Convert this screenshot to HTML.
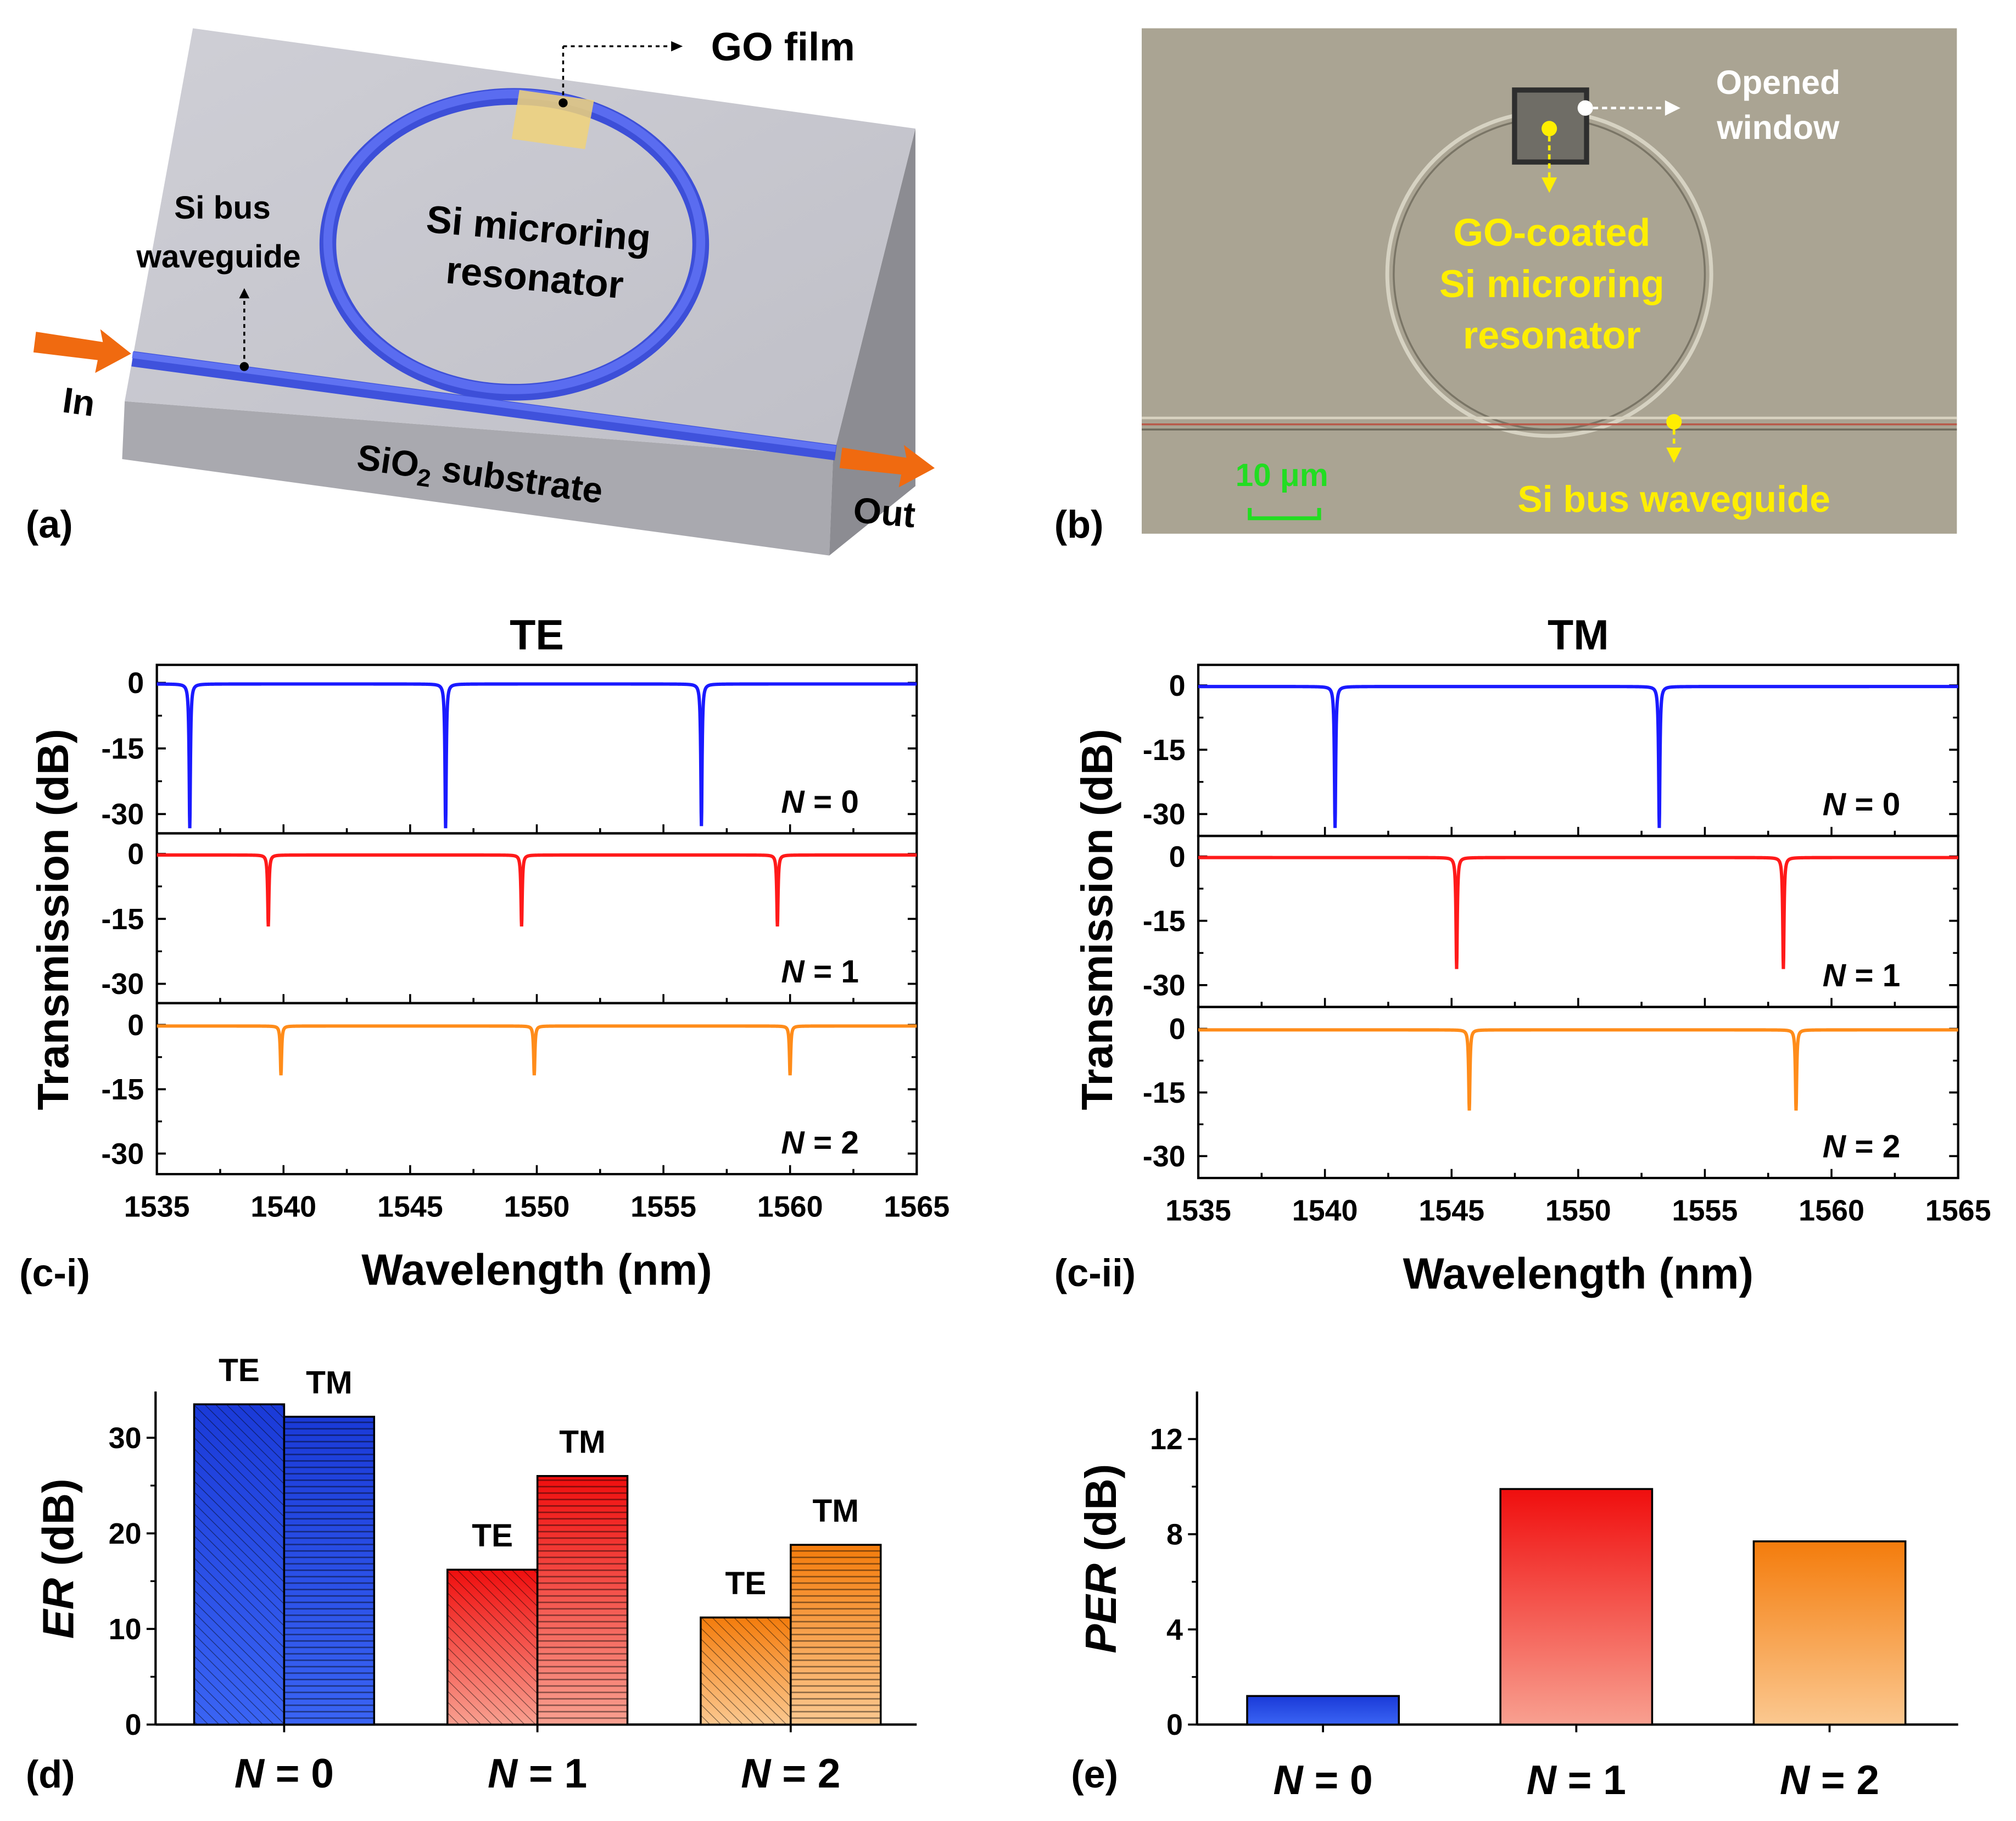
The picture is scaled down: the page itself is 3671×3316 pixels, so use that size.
<!DOCTYPE html>
<html><head><meta charset="utf-8">
<style>
html,body{margin:0;padding:0;background:#fff}
svg{display:block}
text{font-family:"Liberation Sans",Arial,sans-serif}
</style></head>
<body>
<svg id="fig" width="3671" height="3316" viewBox="0 0 1568 1416" preserveAspectRatio="none" xmlns="http://www.w3.org/2000/svg">
<defs>
<pattern id="hatchD" patternUnits="userSpaceOnUse" width="6" height="6" patternTransform="rotate(-45)"><line x1="0" y1="0" x2="0" y2="6" stroke="rgba(0,0,0,0.45)" stroke-width="1.2"/></pattern>
<pattern id="hatchH" patternUnits="userSpaceOnUse" width="6" height="5"><line x1="0" y1="1" x2="6" y2="1" stroke="rgba(0,0,0,0.45)" stroke-width="1.1"/></pattern>
<linearGradient id="gBlue" x1="0" y1="0" x2="0" y2="1"><stop offset="0" stop-color="#1a3ad8"/><stop offset="1" stop-color="#3a64f4"/></linearGradient>
<linearGradient id="gRed" x1="0" y1="0" x2="0" y2="1"><stop offset="0" stop-color="#f00e0e"/><stop offset="1" stop-color="#f8a090"/></linearGradient>
<linearGradient id="gOrange" x1="0" y1="0" x2="0" y2="1"><stop offset="0" stop-color="#f47c0c"/><stop offset="1" stop-color="#fbc890"/></linearGradient>
<linearGradient id="gTop" x1="0" y1="0" x2="1" y2="1"><stop offset="0" stop-color="#cfcfd6"/><stop offset="1" stop-color="#bfbfc7"/></linearGradient>
</defs>

<!-- Panel a -->
<g>
<polygon points="97,312 648,355 645,432 95,357" fill="#a9a9af"/>
<polygon points="648,355 712,100 712,378 645,432" fill="#8c8c92"/>
<polygon points="150,22 712,100 648,355 97,312" fill="url(#gTop)"/>
<ellipse cx="400" cy="190" rx="145" ry="115" fill="none" stroke="#3d4fd8" stroke-width="13"/>
<ellipse cx="400" cy="188" rx="145" ry="115" fill="none" stroke="#5a6cf0" stroke-width="7"/>
<polygon points="404,70 462,78 455,116 398,108" fill="#f0d27a" opacity="0.85"/>
<line x1="103" y1="279" x2="650" y2="352" stroke="#3f52dc" stroke-width="12"/>
<line x1="103" y1="276" x2="650" y2="349" stroke="#5f72f2" stroke-width="5"/>
<polygon points="28,258 80,266 78,256 102,275 74,290 76,280 26,274" fill="#f06a10"/>
<polygon points="655,348 705,356 703,346 727,364 699,379 701,369 653,364" fill="#f06a10"/>
<line x1="438" y1="80" x2="438" y2="36" stroke="#000" stroke-width="1.5" stroke-dasharray="3,3"/>
<line x1="438" y1="36" x2="522" y2="36" stroke="#000" stroke-width="1.5" stroke-dasharray="3,3"/>
<polygon points="522,32 531,36 522,40"/>
<circle cx="438" cy="80" r="3.5"/>
<line x1="190" y1="285" x2="190" y2="232" stroke="#000" stroke-width="1.5" stroke-dasharray="3,3"/>
<polygon points="186,232 190,224 194,232"/>
<circle cx="190" cy="285" r="3.5"/>
<text x="553" y="47" font-size="31" font-weight="bold">GO film</text>
<text x="173" y="170" font-size="25" font-weight="bold" text-anchor="middle">Si bus</text>
<text x="170" y="208" font-size="25" font-weight="bold" text-anchor="middle">waveguide</text>
<text x="418" y="188" font-size="30" font-weight="bold" text-anchor="middle" transform="rotate(5 418 188)">Si microring</text>
<text x="415" y="226" font-size="30" font-weight="bold" text-anchor="middle" transform="rotate(5 415 226)">resonator</text>
<text x="60" y="322" font-size="28" font-weight="bold" text-anchor="middle" transform="rotate(8 60 322)">In</text>
<text x="372" y="378" font-size="28" font-weight="bold" text-anchor="middle" transform="rotate(8 372 378)">SiO<tspan font-size="19" dy="6">2</tspan><tspan dy="-6"> substrate</tspan></text>
<text x="687" y="408" font-size="28" font-weight="bold" text-anchor="middle" transform="rotate(5 687 408)">Out</text>
<text x="20" y="418" font-size="30" font-weight="bold">(a)</text>
</g>

<!-- Panel b -->
<g>
<rect x="888" y="22" width="634" height="393" fill="#aaa493"/>
<circle cx="1205" cy="213" r="126" fill="none" stroke="#d6d2c2" stroke-width="3"/>
<circle cx="1205" cy="213" r="121" fill="none" stroke="#7a7566" stroke-width="1.5"/>
<line x1="888" y1="325" x2="1522" y2="325" stroke="#d8d2c0" stroke-width="2"/>
<line x1="888" y1="330" x2="1522" y2="330" stroke="#b85a4a" stroke-width="1.5"/>
<line x1="888" y1="334" x2="1522" y2="334" stroke="#6e6a5c" stroke-width="1.5"/>
<rect x="1178" y="70" width="56" height="56" fill="#6f6d66" stroke="#2e2e2e" stroke-width="4"/>
<circle cx="1233" cy="84" r="6" fill="#fff"/>
<line x1="1239" y1="84" x2="1295" y2="84" stroke="#fff" stroke-width="2" stroke-dasharray="4,3"/>
<polygon points="1295,78 1307,84 1295,90" fill="#fff"/>
<circle cx="1205" cy="100" r="6" fill="#ffee00"/>
<line x1="1205" y1="106" x2="1205" y2="138" stroke="#ffee00" stroke-width="2" stroke-dasharray="4,3"/>
<polygon points="1199,138 1205,150 1211,138" fill="#ffee00"/>
<circle cx="1302" cy="328" r="6" fill="#ffee00"/>
<line x1="1302" y1="334" x2="1302" y2="348" stroke="#ffee00" stroke-width="2" stroke-dasharray="4,3"/>
<polygon points="1296,348 1302,360 1308,348" fill="#ffee00"/>
<text x="1383" y="73" font-size="26" font-weight="bold" fill="#fff" text-anchor="middle">Opened</text>
<text x="1383" y="108" font-size="26" font-weight="bold" fill="#fff" text-anchor="middle">window</text>
<text x="1207" y="191" font-size="30" font-weight="bold" fill="#ffee00" text-anchor="middle">GO-coated</text>
<text x="1207" y="231" font-size="30" font-weight="bold" fill="#ffee00" text-anchor="middle">Si microring</text>
<text x="1207" y="271" font-size="30" font-weight="bold" fill="#ffee00" text-anchor="middle">resonator</text>
<text x="1302" y="398" font-size="29" font-weight="bold" fill="#ffee00" text-anchor="middle">Si bus waveguide</text>
<text x="997" y="378" font-size="25" font-weight="bold" fill="#22dd22" text-anchor="middle">10 μm</text>
<path d="M972,395 V403 H1026 V395" fill="none" stroke="#22dd22" stroke-width="3"/>
<text x="820" y="418" font-size="30" font-weight="bold">(b)</text>
</g>

<g id="chartC"></g>
<g id="chartD"></g>
<g id="chartE"></g>
</svg>

<script>
// ---- data ----
const xTicks = [1535,1540,1545,1550,1555,1560,1565];
const yTickLabels = ['0','-15','-30'];
const yTickValues = [0,-15,-30];
const teN0Dips = [1536.3,1546.4,1556.5]; const teN0Depth = [-33,-33,-32.5];
const teN1Dips = [1539.4,1549.4,1559.5]; const teN1Depth = [-16.5,-16.5,-16.5];
const teN2Dips = [1539.9,1549.9,1560.0]; const teN2Depth = [-11.5,-11.5,-11.5];
const tmN0Dips = [1540.4,1553.2]; const tmN0Depth = [-33,-33];
const tmN1Dips = [1545.2,1558.1]; const tmN1Depth = [-26,-26];
const tmN2Dips = [1545.7,1558.6]; const tmN2Depth = [-19,-19];
const erCategories = ['N = 0','N = 1','N = 2'];
const erTE = [33.5,16.2,11.2];
const erTM = [32.2,26.0,18.8];
const erTicks = [0,10,20,30];
const perValues = [1.2,9.9,7.7];
const perTicks = [0,4,8,12];

const NS='http://www.w3.org/2000/svg';
function mk(tag,attrs,parent){const e=document.createElementNS(NS,tag);for(const k in attrs)e.setAttribute(k,attrs[k]);parent.appendChild(e);return e;}
function txt(s,attrs,parent){const e=mk('text',attrs,parent);e.textContent=s;return e;}

const C=document.getElementById('chartC');
const colors=['#1a1aff','#ff1a1a','#ff8c1a'];
function panelC(x0,x1,rows,series,title){
  const xs=v=>x0+(v-1535)/30*(x1-x0);
  txt(title,{x:(x0+x1)/2,y:505,'font-size':33,'font-weight':'bold','text-anchor':'middle'},C);
  rows.forEach((r,i)=>{
    const [top,bot,y0,y30]=r;
    const ys=v=>y0+(y30-y0)*(v/-30);
    const g=mk('g',{},C);
    
    
    mk('rect',{x:x0,y:top,width:x1-x0,height:bot-top,fill:'none',stroke:'#000','stroke-width':1.8},g);
    yTickValues.forEach((v,k)=>{
      const y=ys(v);
      mk('line',{x1:x0,y1:y,x2:x0+7,y2:y,stroke:'#000','stroke-width':1.6},g);
      mk('line',{x1:x1,y1:y,x2:x1-7,y2:y,stroke:'#000','stroke-width':1.6},g);
      txt(yTickLabels[k],{x:x0-10,y:y+8,'font-size':23,'font-weight':'bold','text-anchor':'end'},g);
      if(k<2){const ym=ys(v-7.5);
        mk('line',{x1:x0,y1:ym,x2:x0+4,y2:ym,stroke:'#000','stroke-width':1.4},g);
        mk('line',{x1:x1,y1:ym,x2:x1-4,y2:ym,stroke:'#000','stroke-width':1.4},g);}
    });
    for(let w=1537.5;w<1565;w+=2.5){const x=xs(w);const major=(Math.round(w*2)%10===0);
      mk('line',{x1:x,y1:bot,x2:x,y2:bot-(major?7:4),stroke:'#000','stroke-width':1.5},g);}
    const [dips,depth]=series[i];
    let d='';
    for(let w=1535;w<=1565.0001;w+=0.01){
      let v=-0.25;
      dips.forEach((c,k)=>{const hw=0.03;v+=depth[k]/(1+((w-c)/hw)**2);});
      d+=(d?'L':'M')+xs(w).toFixed(2)+','+ys(v).toFixed(2);
    }
    const p=mk('path',{d:d,fill:'none',stroke:colors[i],'stroke-width':2.6},g);
    
    
    const t=txt('',{x:x1-45,y:bot-16,'font-size':25,'font-weight':'bold','text-anchor':'end'},g);
    t.innerHTML='<tspan font-style="italic">N</tspan> = '+i;
  });
  const bot=rows[2][1];
  xTicks.forEach(v=>txt(String(v),{x:xs(v),y:bot+33,'font-size':23,'font-weight':'bold','text-anchor':'middle'},C));
  txt('Wavelength (nm)',{x:(x0+x1)/2,y:bot+86,'font-size':34,'font-weight':'bold','text-anchor':'middle'},C);
}
panelC(122,713,[[517,648,531,633],[648,780,664,765],[780,913,797,897]],
  [[teN0Dips,teN0Depth],[teN1Dips,teN1Depth],[teN2Dips,teN2Depth]],'TE');
panelC(932,1523,[[517,650,533,633],[650,783,666,766],[783,916,800,899]],
  [[tmN0Dips,tmN0Depth],[tmN1Dips,tmN1Depth],[tmN2Dips,tmN2Depth]],'TM');
txt('Transmission (dB)',{x:0,y:0,'font-size':34,'font-weight':'bold','text-anchor':'middle',transform:'translate(53,715) rotate(-90)'},C);
txt('Transmission (dB)',{x:0,y:0,'font-size':34,'font-weight':'bold','text-anchor':'middle',transform:'translate(865,715) rotate(-90)'},C);
txt('(c-i)',{x:15,y:1000,'font-size':30,'font-weight':'bold'},C);
txt('(c-ii)',{x:820,y:1000,'font-size':30,'font-weight':'bold'},C);

// ---- Panel d ----
const D=document.getElementById('chartD');
const grads=['url(#gBlue)','url(#gRed)','url(#gOrange)'];
(function(){
  const x0=121,xEnd=713,yb=1341,k=(1341-1118)/30;
  const ys=v=>yb-v*k;
  mk('line',{x1:x0,y1:1082,x2:x0,y2:yb,stroke:'#000','stroke-width':1.8},D);
  mk('line',{x1:x0,y1:yb,x2:xEnd,y2:yb,stroke:'#000','stroke-width':1.8},D);
  erTicks.forEach(v=>{mk('line',{x1:x0,y1:ys(v),x2:x0-7,y2:ys(v),stroke:'#000','stroke-width':1.6},D);
    txt(String(v),{x:x0-11,y:ys(v)+8,'font-size':23,'font-weight':'bold','text-anchor':'end'},D);
    const ym=ys(v+5);if(v+5<35)mk('line',{x1:x0,y1:ym,x2:x0-4,y2:ym,stroke:'#000','stroke-width':1.4},D);});
  const bw=70, step=197, c0=221;
  erCategories.forEach((c,i)=>{
    const cx=c0+i*step;
    [[erTE[i],cx-bw,'url(#hatchD)','TE'],[erTM[i],cx,'url(#hatchH)','TM']].forEach(([v,x,h,lab])=>{
      const r=mk('rect',{x:x,y:ys(v),width:bw,height:v*k,fill:grads[i],stroke:'#000','stroke-width':1.5},D);
      
      
      mk('rect',{x:x,y:ys(v),width:bw,height:v*k,fill:h,stroke:'none'},D);
      txt(lab,{x:x+bw/2,y:ys(v)-18,'font-size':25,'font-weight':'bold','text-anchor':'middle'},D);
    });
    mk('line',{x1:cx,y1:yb,x2:cx,y2:yb+6,stroke:'#000','stroke-width':1.6},D);
    const t=txt('',{x:cx,y:1390,'font-size':32,'font-weight':'bold','text-anchor':'middle'},D);
    t.innerHTML='<tspan font-style="italic">N</tspan>'+c.slice(1);
  });
  txt('',{x:0,y:0,'font-size':34,'font-weight':'bold','text-anchor':'middle',transform:'translate(57,1212) rotate(-90)'},D).innerHTML='<tspan font-style="italic">ER</tspan> (dB)';
  txt('(d)',{x:20,y:1390,'font-size':30,'font-weight':'bold'},D);
})();

// ---- Panel e ----
const E=document.getElementById('chartE');
(function(){
  const x0=931,xEnd=1523,yb=1341,k=(1341-1119)/12;
  const ys=v=>yb-v*k;
  mk('line',{x1:x0,y1:1082,x2:x0,y2:yb,stroke:'#000','stroke-width':1.8},E);
  mk('line',{x1:x0,y1:yb,x2:xEnd,y2:yb,stroke:'#000','stroke-width':1.8},E);
  perTicks.forEach(v=>{mk('line',{x1:x0,y1:ys(v),x2:x0-7,y2:ys(v),stroke:'#000','stroke-width':1.6},E);
    txt(String(v),{x:x0-11,y:ys(v)+8,'font-size':23,'font-weight':'bold','text-anchor':'end'},E);
    const ym=ys(v+2);if(v+2<14)mk('line',{x1:x0,y1:ym,x2:x0-4,y2:ym,stroke:'#000','stroke-width':1.4},E);});
  const bw=118, step=197, c0=1029;
  erCategories.forEach((c,i)=>{
    const cx=c0+i*step, v=perValues[i];
    const r=mk('rect',{x:cx-bw/2,y:ys(v),width:bw,height:v*k,fill:grads[i],stroke:'#000','stroke-width':1.5},E);
    
    
    mk('line',{x1:cx,y1:yb,x2:cx,y2:yb+6,stroke:'#000','stroke-width':1.6},E);
    const t=txt('',{x:cx,y:1395,'font-size':32,'font-weight':'bold','text-anchor':'middle'},E);
    t.innerHTML='<tspan font-style="italic">N</tspan>'+c.slice(1);
  });
  txt('',{x:0,y:0,'font-size':34,'font-weight':'bold','text-anchor':'middle',transform:'translate(868,1212) rotate(-90)'},E).innerHTML='<tspan font-style="italic">PER</tspan> (dB)';
  txt('(e)',{x:833,y:1390,'font-size':30,'font-weight':'bold'},E);
})();
</script>
</body></html>
